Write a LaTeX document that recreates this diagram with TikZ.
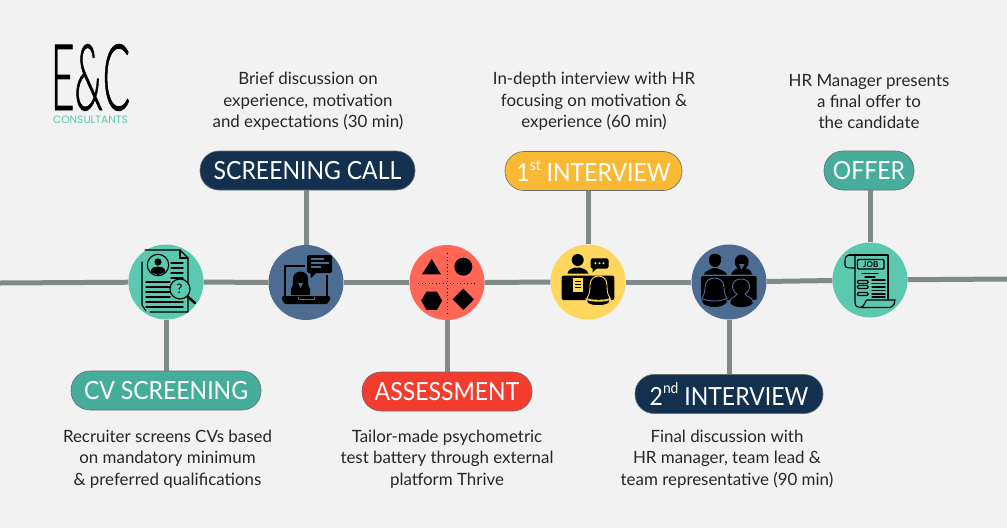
\documentclass[tikz,border=0pt]{standalone}
\usepackage{fontspec}
\setmainfont{Lato}
\newfontfamily\logofont[FakeBold=1]{Lato Light}
\newfontfamily\pillfont[FakeStretch=0.92]{Lato}
\newfontfamily\subfont{Poppins}
\usetikzlibrary{shapes.geometric}
\definecolor{bgc}{HTML}{F2F2F2}
\definecolor{linec}{HTML}{808A8A}
\definecolor{tealc}{HTML}{45AD9A}
\definecolor{mintc}{HTML}{5CC8B0}
\definecolor{navyc}{HTML}{14304F}
\definecolor{bluec}{HTML}{4D6C92}
\definecolor{redc}{HTML}{F33C2E}
\definecolor{coralc}{HTML}{FF6655}
\definecolor{amberc}{HTML}{F9B935}
\definecolor{yellowc}{HTML}{FFD75E}
\definecolor{textc}{HTML}{262626}
\newcommand{\supt}[1]{\raisebox{0.45em}{\fontsize{15}{15}\selectfont #1}}
\tikzset{
  conn/.style={draw=linec,line width=5pt},
  stage/.style={circle,minimum size=75pt,inner sep=0pt},
  pill/.style={rounded corners=19pt,draw=linec!80!black,line width=0.6pt,text=white,inner sep=0pt,
    font=\pillfont\fontsize{25}{25}\selectfont,minimum height=39pt},
  desc/.style={align=center,font=\fontsize{16.9}{21.3}\selectfont,text=textc,inner sep=0pt},
  ink/.style={draw=black,line width=1.1pt,line cap=round},
  solid/.style={fill=black,draw=none},
}
\begin{document}
\begin{tikzpicture}[x=1pt,y=-1pt]
\fill[bgc] (0,0) rectangle (1007,528);
\useasboundingbox (0,0) rectangle (1007,528);

% connector ends
\coordinate (L) at (0,283);
\coordinate (R) at (1007,279);

% circles
\node[stage,fill=mintc] (n1) at (166,282) {};
\node[stage,fill=bluec] (n2) at (306,282.5) {};
\node[stage,fill=coralc] (n3) at (447,282.5) {};
\node[stage,fill=yellowc] (n4) at (588,282) {};
\node[stage,fill=bluec] (n5) at (729,282) {};
\node[stage,fill=mintc] (n6) at (870,280) {};

% pills
\node[pill,fill=tealc,minimum width=190pt] (p1) at (166,390.5) {CV SCREENING};
\node[pill,fill=navyc,minimum width=215pt] (p2) at (307.5,170.5) {SCREENING CALL};
\node[pill,fill=redc,minimum width=170pt] (p3) at (447,391.5) {ASSESSMENT};
\node[pill,fill=amberc,minimum width=177pt] (p4) at (593.5,171) {1\supt{st} INTERVIEW};
\node[pill,fill=navyc,minimum width=188pt] (p5) at (729,394) {2\supt{nd} INTERVIEW};
\node[pill,fill=tealc,minimum width=90pt] (p6) at (869,170.5) {OFFER};

% connectors
\draw[conn] (L) -- (n1);
\draw[conn] (n1) -- (n2);
\draw[conn] (n2) -- (n3);
\draw[conn] (n3) -- (n4);
\draw[conn] (n4) -- (n5);
\draw[conn] (n5) -- (n6);
\draw[conn] (n6) -- (R);
\draw[conn] (n1.south) -- (n1.south |- p1.north);
\draw[conn] (n2.north) -- (n2.north |- p2.south);
\draw[conn] (n3.south) -- (n3.south |- p3.north);
\draw[conn] (n4.north) -- (n4.north |- p4.south);
\draw[conn] (n5.south) -- (n5.south |- p5.north);
\draw[conn] (n6.north) -- (n6.north |- p6.south);

% descriptions
\node[desc] (d1) at (167.5,459) {Recruiter screens CVs based\\on mandatory minimum\\\& preferred qualifications};
\node[desc] (d2) at (308,101.5) {Brief discussion on\\experience, motivation\\and expectations (30 min)};
\node[desc] (d3) at (447,459) {Tailor-made psychometric\\test battery through external\\platform Thrive};
\node[desc] (d4) at (594,101.5) {In-depth interview with HR\\focusing on motivation \&\\experience (60 min)};
\node[desc] (d5) at (727,459) {Final discussion with\\HR manager, team lead \&\\team representative (90 min)};
\node[desc] (d6) at (869,101.5) {HR Manager presents\\a final offer to\\the candidate};

% logo
\node[inner sep=0pt,anchor=base] (logo) at (90.5,110) {\scalebox{0.44}[1]{\logofont\fontsize{92}{92}\selectfont E\&C}};
\node[inner sep=0pt,text=mintc,anchor=base] (logosub) at (90.5,123) {\subfont\fontsize{10.7}{10.7}\selectfont CONSULTANTS};

% icon 1: CV
\draw[ink,line width=1.2pt,line join=round] (145,250) -- (180,250) -- (188,258) -- (188,312) -- (150,312);
\draw[ink] (180,250) -- (180,258) -- (188,258);
\draw[ink] (142,262) -- (142,305) -- (146,311);
\draw[ink] (158,265) circle (10.7);
\fill (158,262) circle (3.6);
\fill (150.5,272) .. controls (151,267) and (155,266.5) .. (158,266.5) .. controls (161,266.5) and (165,267) .. (165.5,272) -- (158,275) -- cycle;
\foreach \y in {263,268,273,278}{\draw[ink] (171,\y) -- (183,\y);}
\foreach \y in {282,287,292,297}{\draw[ink,line width=1.5pt] (146,\y) -- (170,\y);}
\foreach \y in {302,307}{\draw[ink,line width=1.5pt] (146,\y) -- (183,\y);}
\draw[ink,fill=mintc] (180,289) circle (10);
\draw[line width=2.4pt,line cap=round] (187.5,296.5) -- (195,303);
\node[inner sep=0pt,font=\fontsize{13}{13}\selectfont] (qm) at (179.5,289) {?};

% icon 2: laptop
\draw[line width=1.8pt] (305,266) -- (285,266) -- (285,296);
\draw[line width=1.8pt] (327,275) -- (327,296);
\fill[rounded corners=1pt] (282,296) -- (330,296) -- (330,300) -- (327,304) -- (285,304) -- (282,300) -- cycle;
\draw[bluec,line width=0.7pt] (298,297) -- (298,299.5) -- (314,299.5) -- (314,297);
\fill[rounded corners=2pt] (307,255) rectangle (332,273);
\fill (310,271) -- (311,278) -- (318,271) -- cycle;
\foreach \y/\xe in {259/324,263/329,267/321}{\draw[bluec,line width=1.1pt] (311,\y) -- (\xe,\y);}
\fill (291,295) -- (291,289) .. controls (293,287) and (293,284) .. (293,279) .. controls (293,269) and (308,269) .. (308,279) .. controls (308,284) and (308,287) .. (310,289) -- (310,295) -- cycle;
\fill[bluec] (298,283) -- (303,283) -- (300.5,288) -- cycle;

% icon 3: shapes
\draw[black,line width=1.3pt,dash pattern=on 1.3pt off 2.2pt] (447.3,253) -- (447.3,313);
\draw[black,line width=1.3pt,dash pattern=on 1.3pt off 2.2pt] (418,283.5) -- (477,283.5);
\fill (431.7,259) -- (441,274.3) -- (422,274.3) -- cycle;
\fill (463.3,266.7) circle (9);
\node[solid,regular polygon,regular polygon sides=6,minimum size=21pt,inner sep=0pt] (hex) at (431.7,300.7) {};
\node[solid,diamond,minimum size=21.5pt,inner sep=0pt] (dia) at (463.3,299.3) {};

% icon 4: one-to-one interview
\fill (577.7,260) circle (6);
\fill (567.5,273.5) .. controls (568,269) and (573,268.5) .. (575,267.5) -- (580,267.5) .. controls (582,268.5) and (587,269) .. (588.5,273.5) -- cycle;
\fill[rounded corners=2pt] (590.7,258.3) rectangle (608.5,268.5);
\fill (592.5,267) -- (592.5,272.5) -- (598,267) -- cycle;
\foreach \x in {595.5,599.5,603.5}{\fill[yellowc] (\x,263.3) circle (1.1);}
\fill[rounded corners=2pt] (561.7,275.7) rectangle (614.3,300);
\fill[yellowc] (572.7,278.3) rectangle (583.3,291.7);
\foreach \y in {281.5,284.5,287.5}{\draw[black,line width=0.9pt] (575,\y) -- (581,\y);}
\draw[yellowc,fill=black,line width=0.9pt] (587,298) .. controls (590,294) and (590,289) .. (590,285) .. controls (590,273) and (607,273) .. (607,285) .. controls (607,289) and (607,294) .. (610,298) .. controls (610,301) and (587,301) .. (587,298) -- cycle;
\draw[yellowc,fill=black,line width=0.9pt] (586,299) .. controls (590,302) and (607,302) .. (610.5,299) -- (609,303) .. controls (605,306.5) and (591,306.5) .. (587.5,303) -- cycle;

% icon 5: panel interview
\fill (715,260.5) ellipse (6 and 6.5);
\draw[line width=1pt] (709.5,258) .. controls (710,253) and (720,253) .. (721,258);
\fill (704,274.5) .. controls (705,270) and (711,270) .. (713,268) -- (717,268) .. controls (719,270) and (725,270) .. (727,274.5) -- cycle;
\fill (741.7,262) ellipse (7 and 7.5);
\fill (731,274.5) .. controls (733,269) and (737,269) .. (739,268) -- (745,268) .. controls (747,269) and (751,269) .. (752,274.5) -- cycle;
\fill[bluec] (739,264) -- (744.5,264) -- (741.7,269.5) -- cycle;
\fill[rounded corners=2pt] (701,276) rectangle (756.7,300);
\draw[bluec,fill=black,line width=0.9pt] (702,298) .. controls (705,294) and (705,289) .. (705,287) .. controls (705,275) and (724,275) .. (724,287) .. controls (724,289) and (724,294) .. (727,298) -- (727,303) .. controls (722,309) and (707,309) .. (702,303) -- cycle;
\draw[bluec,line width=0.9pt] (702,298) .. controls (706,302) and (723,302) .. (727,298);
\draw[bluec,fill=black,line width=0.9pt] (730,302) .. controls (730,297) and (736,297) .. (737,294) .. controls (730,290) and (731,279) .. (741,279) .. controls (751,279) and (752,290) .. (745,294) .. controls (746,297) and (753,297) .. (753,302) -- (753,304) .. controls (748,309) and (735,309) .. (730,304) -- cycle;

% icon 6: job scroll
\draw[ink,line join=round,fill=mintc] (855,255) .. controls (848,254) and (845,256) .. (845,260) -- (845,265) .. controls (845,268) and (849,268) .. (852,268) -- (855,268);
\draw[ink,line join=round] (849,255) -- (888,255) -- (888,300);
\draw[ink] (855,256) -- (855,302) .. controls (855,306) and (857,307.5) .. (860,307.5) -- (890,307.5) .. controls (894,306) and (895,303) .. (895,300) -- (867,300) .. controls (865,300) and (865,307) .. (860,307.5);
\draw[ink,line width=1.4pt,rounded corners=1pt] (857.5,259.5) rectangle (884,269);
\node[inner sep=0pt,font=\bfseries\fontsize{8}{8}\selectfont] (job) at (870.7,264.3) {JOB};
\draw[ink] (862,273.5) -- (878,273.5);
\draw[ink] (865,277) -- (875,277);
\foreach \y in {282,287,294}{\draw[ink,rounded corners=1pt] (857.5,\y-1.5) rectangle (868,\y+1.5);}
\foreach \y in {280,283.5,287,290.5,294,297}{\draw[ink,line width=1.3pt] (872,\y) -- (885,\y);}
\end{tikzpicture}
\end{document}
